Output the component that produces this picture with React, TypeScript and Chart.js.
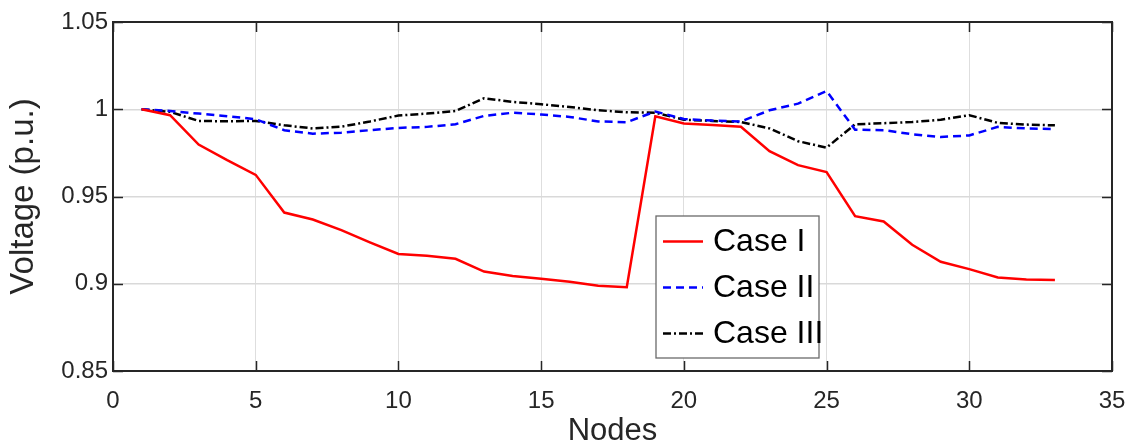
import React, { useEffect, useRef } from "react";
import { Chart, registerables } from "chart.js";

Chart.register(...registerables);

const nodes = [1, 2, 3, 4, 5, 6, 7, 8, 9, 10, 11, 12, 13, 14, 15, 16, 17, 18, 19, 20, 21, 22, 23, 24, 25, 26, 27, 28, 29, 30, 31, 32, 33];

const caseI = [1.0, 0.9966, 0.9798, 0.9708, 0.9624, 0.9408, 0.9368, 0.9307, 0.9237, 0.9171, 0.916, 0.9143, 0.907, 0.9045, 0.9028, 0.9011, 0.8988, 0.898, 0.996, 0.9918, 0.991, 0.990, 0.976, 0.968, 0.964, 0.9387, 0.9357, 0.9223, 0.9126, 0.9084, 0.9036, 0.9025, 0.9021];

const caseII = [1.0, 0.999, 0.9975, 0.996, 0.9943, 0.988, 0.986, 0.9866, 0.988, 0.9893, 0.9899, 0.9914, 0.9962, 0.998, 0.997, 0.9956, 0.993, 0.9926, 0.9987, 0.9944, 0.9935, 0.993, 0.9994, 1.0032, 1.0105, 0.9883, 0.988, 0.9857, 0.9841, 0.985, 0.9899, 0.989, 0.9887];

const caseIII = [1.0, 0.9985, 0.9933, 0.9931, 0.9933, 0.9908, 0.989, 0.990, 0.993, 0.9964, 0.9975, 0.999, 1.0063, 1.0042, 1.0029, 1.0013, 0.9994, 0.9983, 0.998, 0.994, 0.9933, 0.9927, 0.989, 0.9817, 0.978, 0.9914, 0.992, 0.9927, 0.994, 0.9966, 0.9922, 0.9912, 0.9908];

const seriesNames = ["Case I", "Case II", "Case III"];
const xTicks = [0, 5, 10, 15, 20, 25, 30, 35];
const yTicks = [0.85, 0.9, 0.95, 1, 1.05];

const FONT = "'Liberation Sans', Arial, Helvetica, sans-serif";
const AXIS = "#262626";

const framePlugin = {
  id: "frameAndLegend",
  afterDraw(chart: any) {
    const ctx = chart.ctx;
    const { left, right, top, bottom } = chart.chartArea;
    const xs = chart.scales.x;
    const ys = chart.scales.y;
    ctx.save();
    // frame
    ctx.strokeStyle = AXIS;
    ctx.lineWidth = 2;
    ctx.strokeRect(left, top, right - left, bottom - top);
    // inward ticks
    const tl = 10;
    ctx.lineWidth = 1.5;
    ctx.beginPath();
    xTicks.forEach((t) => {
      const px = Math.round(xs.getPixelForValue(t)) + 0.5;
      ctx.moveTo(px, bottom);
      ctx.lineTo(px, bottom - tl);
      ctx.moveTo(px, top);
      ctx.lineTo(px, top + tl);
    });
    yTicks.forEach((t) => {
      const py = Math.round(ys.getPixelForValue(t)) + 0.5;
      ctx.moveTo(left, py);
      ctx.lineTo(left + tl, py);
      ctx.moveTo(right, py);
      ctx.lineTo(right - tl, py);
    });
    ctx.stroke();

    // legend box
    const bx = 656, by = 216, bw = 163, bh = 142;
    ctx.fillStyle = "#ffffff";
    ctx.fillRect(bx, by, bw, bh);
    ctx.strokeStyle = "#6a6a6a";
    ctx.lineWidth = 1.3;
    ctx.strokeRect(bx, by, bw, bh);
    const rows = [241.5, 287.5, 333.5];
    chart.data.datasets.forEach((ds: any, i: number) => {
      const y = rows[i];
      ctx.beginPath();
      ctx.strokeStyle = ds.borderColor;
      ctx.lineWidth = ds.borderWidth;
      ctx.setLineDash(ds.borderDash || []);
      ctx.moveTo(663, y);
      ctx.lineTo(703, y);
      ctx.stroke();
      ctx.setLineDash([]);
      ctx.fillStyle = "#000000";
      ctx.font = `32px ${FONT}`;
      ctx.textBaseline = "middle";
      ctx.textAlign = "left";
      ctx.fillText(ds.label, 713, y + 1);
    });
    ctx.restore();
  },
};

export default function App() {
  const ref = useRef<HTMLCanvasElement | null>(null);
  useEffect(() => {
    document.body.style.margin = "0";
    const canvas = ref.current!;
    const mk = (vals: number[]) => vals.map((v, i) => ({ x: nodes[i], y: v }));
    const chart = new Chart(canvas, {
      type: "line",
      data: {
        datasets: [
          {
            label: seriesNames[0],
            data: mk(caseI),
            borderColor: "#ff0000",
            borderWidth: 2.5,
            pointRadius: 0,
            tension: 0,
          },
          {
            label: seriesNames[1],
            data: mk(caseII),
            borderColor: "#0000ff",
            borderWidth: 2.5,
            borderDash: [8, 5],
            pointRadius: 0,
            tension: 0,
          },
          {
            label: seriesNames[2],
            data: mk(caseIII),
            borderColor: "#000000",
            borderWidth: 2.5,
            borderDash: [8, 3, 2, 3],
            pointRadius: 0,
            tension: 0,
          },
        ],
      },
      options: {
        responsive: false,
        animation: false,
        layout: { padding: { top: 22, right: 18, left: 0, bottom: 0 } },
        plugins: { legend: { display: false }, tooltip: { enabled: false } },
        scales: {
          x: {
            type: "linear",
            min: 0,
            max: 35,
            afterBuildTicks: (s: any) => {
              s.ticks = xTicks.map((v) => ({ value: v }));
            },
            afterFit: (s: any) => {
              s.height = 74;
              s.paddingLeft = 0;
              s.paddingRight = 0;
            },
            grid: { color: "#dedede", lineWidth: 1, drawTicks: false },
            border: { display: false },
            ticks: {
              color: AXIS,
              font: { family: FONT, size: 24 },
              padding: 16,
              maxRotation: 0,
              autoSkip: false,
            },
            title: {
              display: true,
              text: "Nodes",
              color: AXIS,
              font: { family: FONT, size: 31, lineHeight: 1 },
              padding: { top: 0, bottom: -2 },
            },
          },
          y: {
            type: "linear",
            min: 0.85,
            max: 1.05,
            afterBuildTicks: (s: any) => {
              s.ticks = yTicks.map((v) => ({ value: v }));
            },
            afterFit: (s: any) => {
              s.width = 113;
              s.paddingTop = 0;
              s.paddingBottom = 0;
            },
            grid: { color: "#d9d9d9", lineWidth: 1.5, drawTicks: false },
            border: { display: false },
            ticks: {
              color: AXIS,
              font: { family: FONT, size: 24 },
              padding: 5,
              callback: (v: any) => String(Number(Number(v).toFixed(2))),
            },
            title: {
              display: true,
              text: "Voltage (p.u.)",
              color: AXIS,
              font: { family: FONT, size: 33, lineHeight: 1.2 },
              padding: { top: 4, bottom: 0 },
            },
          },
        },
      },
      plugins: [framePlugin],
    });
    return () => chart.destroy();
  }, []);
  return (
    <div style={{ width: 1130, height: 445 }}>
      <canvas ref={ref} width={1130} height={445} style={{ display: "block" }} />
    </div>
  );
}
